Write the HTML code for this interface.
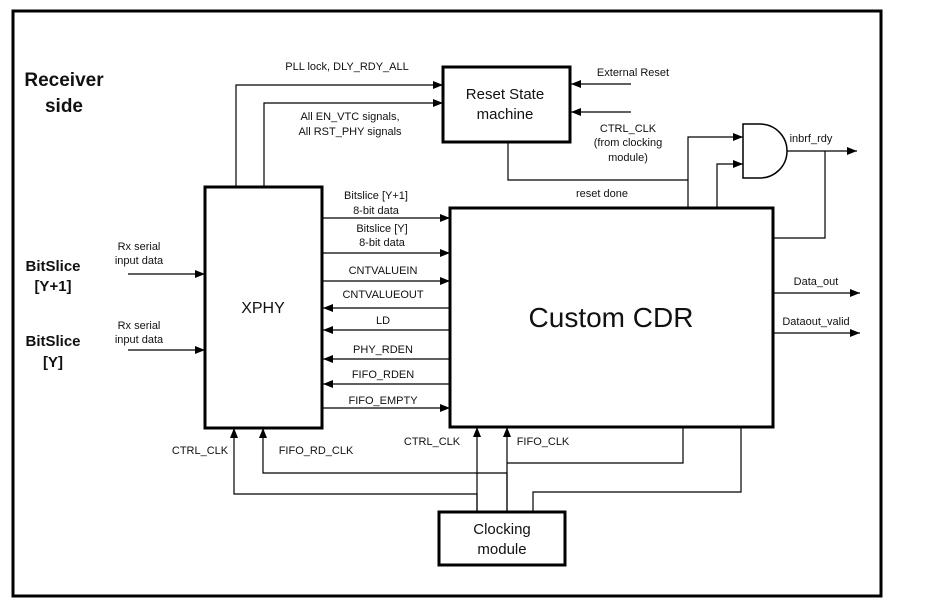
<!DOCTYPE html>
<html><head><meta charset="utf-8"><style>
html,body{margin:0;padding:0;background:#fff}
svg text{font-family:"Liberation Sans",sans-serif;fill:#111}
.s{font-size:11px}
</style></head><body>
<svg width="925" height="607" viewBox="0 0 925 607" xmlns="http://www.w3.org/2000/svg">
<defs><marker id="a" markerWidth="10" markerHeight="8" refX="10" refY="4" orient="auto" markerUnits="userSpaceOnUse"><path d="M0,0 L10,4 L0,8 z" fill="#000"/></marker></defs>
<rect x="13" y="11" width="868" height="585" fill="none" stroke="#000" stroke-width="3"/>
<g fill="none" stroke="#000" stroke-width="3">
<rect x="205" y="187" width="117" height="241"/>
<rect x="450" y="208" width="323" height="219"/>
<rect x="443" y="67" width="127" height="75"/>
<rect x="439" y="512" width="126" height="53"/>
</g>
<path d="M743,124 L760,124 A27,27 0 0 1 760,178 L743,178 Z" fill="#fff" stroke="#000" stroke-width="1.5"/>
<g fill="none" stroke="#000" stroke-width="1.2">
<path d="M236,187 V85 H443" marker-end="url(#a)"/>
<path d="M264,187 V103 H443" marker-end="url(#a)"/>
<path d="M631,84 H571" marker-end="url(#a)"/>
<path d="M631,112 H571" marker-end="url(#a)"/>
<path d="M508,142 V180 H688"/>
<path d="M688,207 V137 H743" marker-end="url(#a)"/>
<path d="M717,207 V164 H743" marker-end="url(#a)"/>
<path d="M787,151 H857" marker-end="url(#a)"/>
<path d="M825,151 V238 H773"/>
<path d="M323,218 H450" marker-end="url(#a)"/>
<path d="M323,253 H450" marker-end="url(#a)"/>
<path d="M323,281 H450" marker-end="url(#a)"/>
<path d="M450,308 H323" marker-end="url(#a)"/>
<path d="M450,330 H323" marker-end="url(#a)"/>
<path d="M450,359 H323" marker-end="url(#a)"/>
<path d="M450,384 H323" marker-end="url(#a)"/>
<path d="M323,408 H450" marker-end="url(#a)"/>
<path d="M128,274 H205" marker-end="url(#a)"/>
<path d="M128,350 H205" marker-end="url(#a)"/>
<path d="M477,512 V494 H234 V428" marker-end="url(#a)"/>
<path d="M477,512 V427" marker-end="url(#a)"/>
<path d="M507,512 V473 H263 V428" marker-end="url(#a)"/>
<path d="M507,512 V427" marker-end="url(#a)"/>
<path d="M683,427 V463 H507"/>
<path d="M741,427 V492 H533 V512"/>
<path d="M773,293 H860" marker-end="url(#a)"/>
<path d="M773,333 H860" marker-end="url(#a)"/>
</g>
<text x="64" y="86" font-size="19" font-weight="bold" text-anchor="middle">Receiver</text>
<text x="64" y="112" font-size="19" font-weight="bold" text-anchor="middle">side</text>
<text x="53" y="271" font-size="15" font-weight="bold" text-anchor="middle">BitSlice</text>
<text x="53" y="291" font-size="15" font-weight="bold" text-anchor="middle">[Y+1]</text>
<text x="53" y="346" font-size="15" font-weight="bold" text-anchor="middle">BitSlice</text>
<text x="53" y="367" font-size="15" font-weight="bold" text-anchor="middle">[Y]</text>
<text x="263" y="313" font-size="16" text-anchor="middle">XPHY</text>
<text x="611" y="327" font-size="28" text-anchor="middle">Custom CDR</text>
<text x="505" y="99" font-size="15" text-anchor="middle">Reset State</text>
<text x="505" y="119" font-size="15" text-anchor="middle">machine</text>
<text x="502" y="534" font-size="15" text-anchor="middle">Clocking</text>
<text x="502" y="554" font-size="15" text-anchor="middle">module</text>
<g class="s" text-anchor="middle">
<text x="347" y="70">PLL lock, DLY_RDY_ALL</text>
<text x="350" y="120">All EN_VTC signals,</text>
<text x="350" y="135">All RST_PHY signals</text>
<text x="633" y="76">External Reset</text>
<text x="628" y="132">CTRL_CLK</text>
<text x="628" y="146">(from clocking</text>
<text x="628" y="161">module)</text>
<text x="811" y="142">inbrf_rdy</text>
<text x="602" y="197">reset done</text>
<text x="376" y="199">Bitslice [Y+1]</text>
<text x="376" y="214">8-bit data</text>
<text x="382" y="232">Bitslice [Y]</text>
<text x="382" y="246">8-bit data</text>
<text x="383" y="274">CNTVALUEIN</text>
<text x="383" y="298">CNTVALUEOUT</text>
<text x="383" y="324">LD</text>
<text x="383" y="353">PHY_RDEN</text>
<text x="383" y="378">FIFO_RDEN</text>
<text x="383" y="404">FIFO_EMPTY</text>
<text x="139" y="250">Rx serial</text>
<text x="139" y="264">input data</text>
<text x="139" y="329">Rx serial</text>
<text x="139" y="343">input data</text>
<text x="200" y="454">CTRL_CLK</text>
<text x="316" y="454">FIFO_RD_CLK</text>
<text x="432" y="445">CTRL_CLK</text>
<text x="543" y="445">FIFO_CLK</text>
<text x="816" y="285">Data_out</text>
<text x="816" y="325">Dataout_valid</text>
</g>
</svg>
</body></html>
